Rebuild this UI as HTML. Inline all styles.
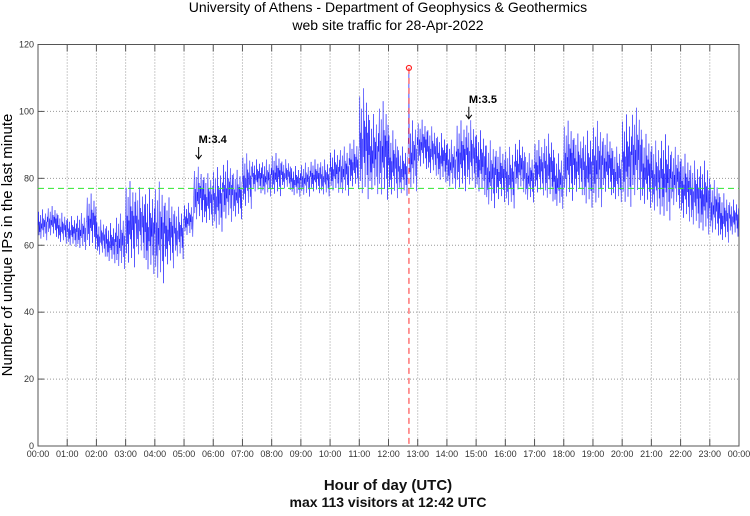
<!DOCTYPE html>
<html><head><meta charset="utf-8"><style>
body{margin:0;background:#fff;width:750px;height:511px;overflow:hidden}
svg{font-family:"Liberation Sans","DejaVu Sans",sans-serif}
</style></head><body>
<svg id="chart" width="750" height="511" xmlns="http://www.w3.org/2000/svg">
<text x="388" y="12" font-size="14" text-anchor="middle">University of Athens - Department of Geophysics &amp; Geothermics</text>
<text x="388" y="30" font-size="14" text-anchor="middle">web site traffic for 28-Apr-2022</text>
<text transform="translate(12,245) rotate(-90)" font-size="15" text-anchor="middle">Number of unique IPs in the last minute</text>
<text x="388" y="490" font-size="15" font-weight="bold" text-anchor="middle" fill="#111">Hour of day (UTC)</text>
<text x="388" y="507" font-size="14" font-weight="bold" text-anchor="middle" fill="#111">max 113 visitors at 12:42 UTC</text>
<g id="grid"></g><g id="series"></g><g id="overlay"></g>
</svg>
<script>
const yTicks=[0,20,40,60,80,100,120];
const hourLabels=["00:00","01:00","02:00","03:00","04:00","05:00","06:00","07:00","08:00","09:00","10:00","11:00","12:00","13:00","14:00","15:00","16:00","17:00","18:00","19:00","20:00","21:00","22:00","23:00","00:00"];
// 20-minute bins: low and high envelope of visitors
const binLow=[61,62,60,59,58,58,56,54,52,52,55,50,47,52,55,62,66,65,63,66,67,70,75,74,74,76,74,74,75,74,75,74,76,72,74,72,73,74,75,82,80,78,76,75,76,74,70,72,70,75,72,74,72,70,72,74,70,70,74,72,70,72,70,68,66,70,66,64,62,62,60,62];
const binHigh=[71,72,70,69,70,76,68,67,70,80,78,78,80,75,72,73,84,82,84,86,83,88,86,86,88,86,84,85,86,86,89,90,92,108,100,104,95,90,113,98,96,94,92,98,98,95,92,90,90,92,88,92,94,88,98,94,95,98,94,90,100,102,94,92,94,90,88,86,86,80,76,74];
const meanValue=77;
const maxValue=113, maxMinute=762;
const quakes=[{label:"M:3.4",minute:330,value:84},{label:"M:3.5",minute:885,value:96}];
const X0=38,X1=739,Y0=446,Y1=44.5;
const xs=m=>X0+(X1-X0)*m/1440;
const ys=v=>Y0-(Y0-Y1)*v/120;
const NS="http://www.w3.org/2000/svg";
function mk(tag,attrs,parent){const e=document.createElementNS(NS,tag);for(const k in attrs)e.setAttribute(k,attrs[k]);parent.appendChild(e);return e;}
const grid=document.getElementById('grid'),ser=document.getElementById('series'),ov=document.getElementById('overlay');
yTicks.forEach(v=>{
 const y=ys(v);
 if(v>0&&v<120){const l=mk('line',{x1:X0,x2:X1,y1:y,y2:y,stroke:'#999','stroke-width':1,'stroke-dasharray':'1,2'},grid);
 
 }
 const t=mk('text',{x:X0-4,y:y+3,'font-size':9,'text-anchor':'end',fill:'#333'},grid);t.textContent=v;
 
 
 mk('line',{x1:X0,x2:X0+6,y1:y,y2:y,stroke:'#555'},grid);
});
hourLabels.forEach((lab,i)=>{
 const x=xs(i*60);
 if(i>0&&i<24){const l=mk('line',{x1:x,x2:x,y1:Y1,y2:Y0,stroke:'#999','stroke-width':1,'stroke-dasharray':'1,2'},grid);
 
 }
 mk('line',{x1:x,x2:x,y1:Y0,y2:Y0-7,stroke:'#555'},grid);
 mk('line',{x1:x,x2:x,y1:Y1,y2:Y1+7,stroke:'#555'},grid);
 const t=mk('text',{x:x,y:Y0+11,'font-size':9,'text-anchor':'middle',fill:'#333'},grid);t.textContent=lab;
 
 
});
const frame=mk('rect',{x:X0,y:Y1,width:X1-X0,height:Y0-Y1,fill:'none',stroke:'#555','stroke-width':1},grid);


// texture pattern for rendering minute-level jitter within each bin envelope
const tex=[0.5,0.9,0.2,0.6,0.3,0.8,0.1,0.55,0.4,0.97,0.35,0.7,0.15,0.65,0.45,0.85,0.25,0.6,0.05,0.75];
let pts=[];
binLow.forEach((lo,b)=>{const hi=binHigh[b];
 for(let k=0;k<20;k++){const m=b*20+k;let v=lo+(hi-lo)*tex[k];
  if(hi===maxValue) v=(m===maxMinute)?hi:lo+(hi-lo-15)*tex[k];
  pts.push(xs(m).toFixed(1)+','+ys(v).toFixed(1));}
});
const pl=mk('polyline',{points:pts.join(' '),fill:'none',stroke:'#0000ff','stroke-width':0.5,'stroke-opacity':0.85},ser);


const ml=mk('line',{x1:X0,x2:X1,y1:ys(meanValue),y2:ys(meanValue),stroke:'#2ee62e','stroke-width':1,'stroke-dasharray':'6,4'},ov);


const rl=mk('line',{x1:xs(maxMinute),x2:xs(maxMinute),y1:ys(maxValue),y2:Y0,stroke:'#ff3030','stroke-width':1,'stroke-dasharray':'6,4'},ov);


const mc=mk('circle',{cx:xs(maxMinute),cy:ys(maxValue),r:2.5,fill:'none',stroke:'#ff2020','stroke-width':1.2},ov);


quakes.forEach(q=>{const x=xs(q.minute),y=ys(q.value);
 const t=mk('text',{x:x,y:y-22,'font-size':11,'font-weight':'bold'},ov);t.textContent=q.label;
 
 
 const a=mk('path',{d:`M${x},${y-18}V${y-6}M${x-3},${y-10}L${x},${y-6}L${x+3},${y-10}`,stroke:'#000',fill:'none','stroke-width':1},ov);
 
 
});
</script>
</body></html>
